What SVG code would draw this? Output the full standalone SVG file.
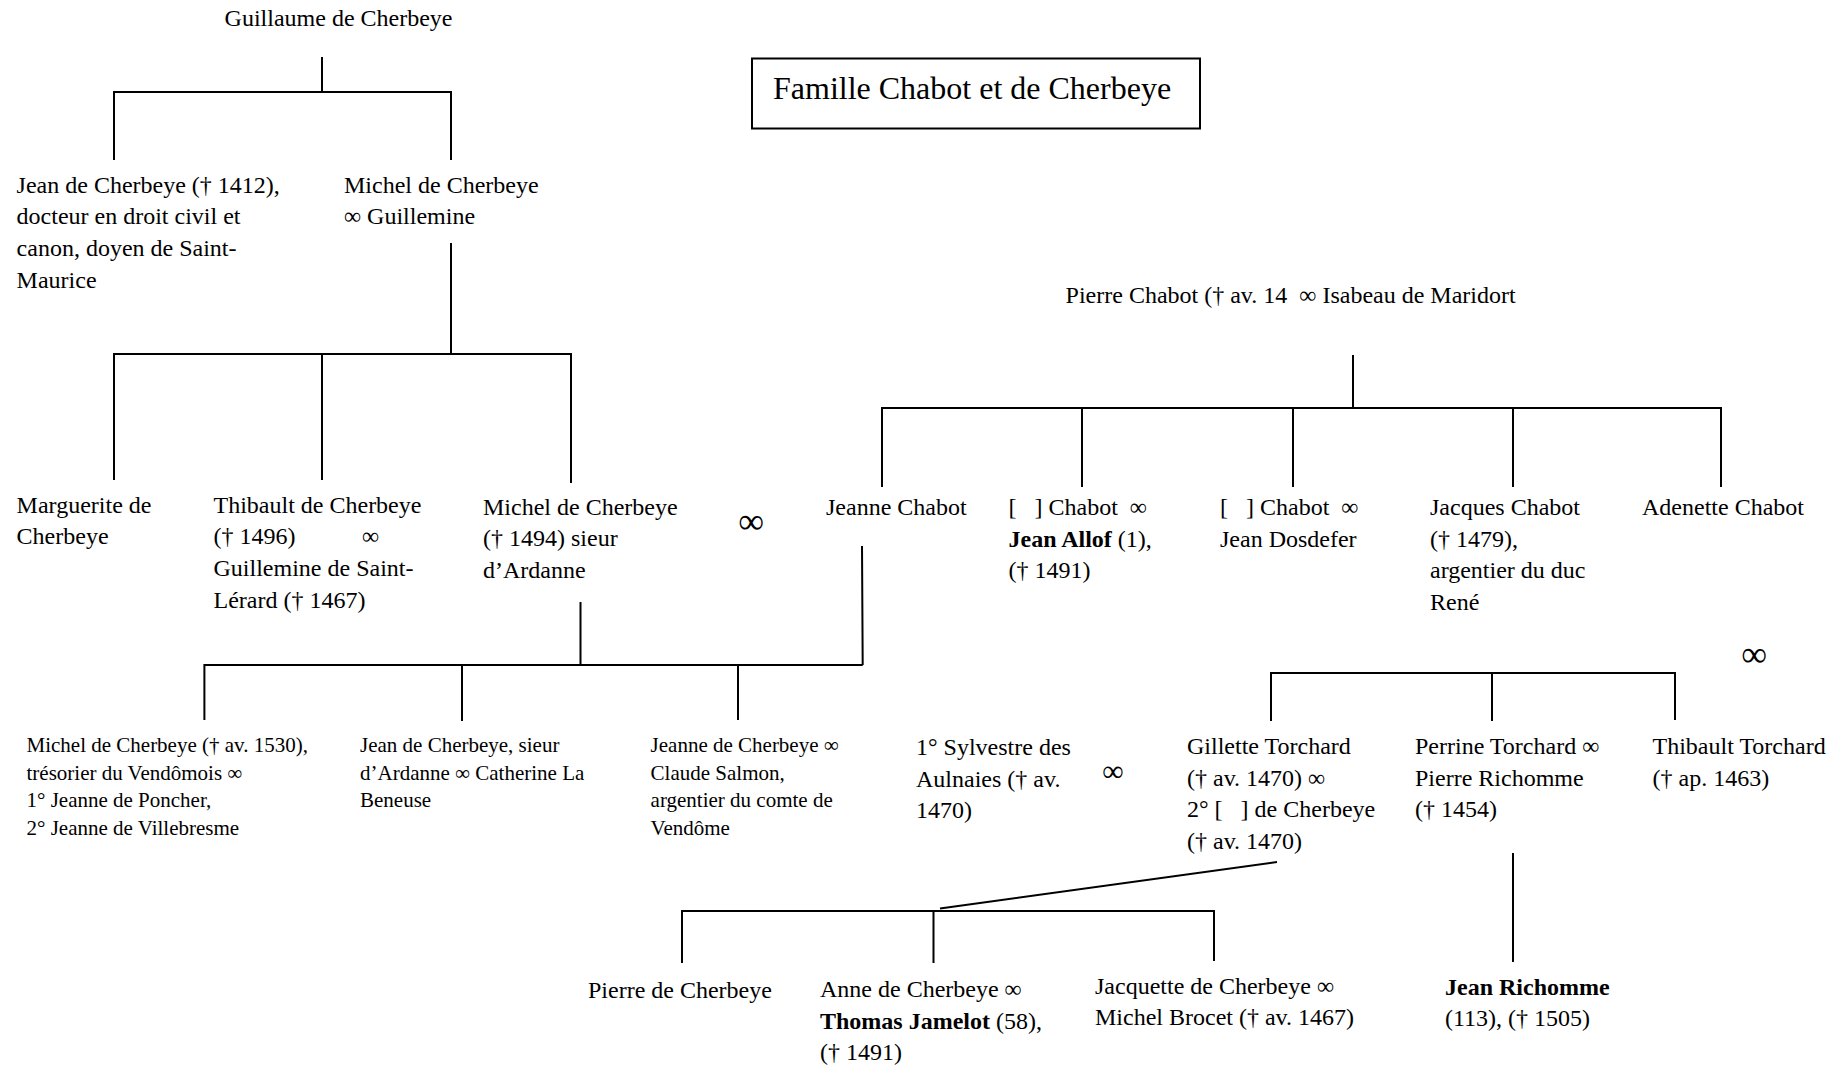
<svg xmlns="http://www.w3.org/2000/svg" width="1848" height="1068" viewBox="0 0 1848 1068">
<style>
text{font-family:"Liberation Serif","Times New Roman",serif;font-size:24px;fill:#000}
.s{font-size:21px}
.b{font-weight:bold}
.big{font-size:36px;text-anchor:middle}
.ln{fill:none;stroke:#000;stroke-width:2}
</style>
<rect width="1848" height="1068" fill="#fff"/>
<g id="connectors" class="ln">
<path d="M322 57V92M114 160V92H451V160"/>
<path d="M451 243V354M114 480V354H571V483M322 354V480"/>
<path d="M1353 355V408M882 487V408H1721V487M1082 408V487M1293 408V487M1513 408V487"/>
<path d="M580.5 602V665M862 546L862.7 665M204.4 720V665H862.7M462 665V721M738 665V720"/>
<path d="M1271 721V673H1675V720M1492 673V721"/>
<path d="M1277 862L940 908.5M682 963V911H1214V961M933.5 911V963"/>
<path d="M1513 853V962"/>
</g>
<g id="title"><rect x="752" y="58.5" width="448" height="70" fill="none" stroke="#000" stroke-width="2"/><text x="773" y="99" style="font-size:32px">Famille Chabot et de Cherbeye</text></g>
<g id="guillaume"><text x="224.6" y="26">Guillaume de Cherbeye</text></g>
<g id="jean1412"><text x="16.6" y="192.7">Jean de Cherbeye († 1412),</text><text x="16.6" y="224.4">docteur en droit civil et</text><text x="16.6" y="256">canon, doyen de Saint-</text><text x="16.6" y="287.7">Maurice</text></g>
<g id="michel1"><text x="344" y="192.7">Michel de Cherbeye</text><text x="344" y="224.4">∞ Guillemine</text></g>
<g id="marguerite"><text x="16.6" y="512.7">Marguerite de</text><text x="16.6" y="544.4">Cherbeye</text></g>
<g id="thibault"><text x="213.5" y="512.7">Thibault de Cherbeye</text><text x="213.5" y="544.4">(† 1496)</text><text x="362" y="544.4">∞</text><text x="213.5" y="576">Guillemine de Saint-</text><text x="213.5" y="607.7">Lérard († 1467)</text></g>
<g id="michel2"><text x="483" y="514.5">Michel de Cherbeye</text><text x="483" y="546">(† 1494) sieur</text><text x="483" y="577.5">d’Ardanne</text></g>
<g id="m1"><text class="big" x="751" y="533">∞</text></g>
<g id="pierrechabot"><text x="1065.6" y="303" xml:space="preserve">Pierre Chabot († av. 14  ∞ Isabeau de Maridort</text></g>
<g id="jeanne"><text x="826" y="515">Jeanne Chabot</text></g>
<g id="chabot1"><text x="1008.5" y="515" xml:space="preserve">[   ] Chabot  ∞</text><text x="1008.5" y="546.7"><tspan class="b">Jean Allof</tspan> (1),</text><text x="1008.5" y="578.4">(† 1491)</text></g>
<g id="chabot2"><text x="1220" y="515" xml:space="preserve">[   ] Chabot  ∞</text><text x="1220" y="546.7">Jean Dosdefer</text></g>
<g id="jacques"><text x="1430" y="515">Jacques Chabot</text><text x="1430" y="546.7">(† 1479),</text><text x="1430" y="578.4">argentier du duc</text><text x="1430" y="610">René</text></g>
<g id="adenette"><text x="1642" y="515">Adenette Chabot</text></g>
<g id="michel3"><text class="s" x="26.5" y="751.7">Michel de Cherbeye († av. 1530),</text><text class="s" x="26.5" y="779.5">trésorier du Vendômois ∞</text><text class="s" x="26.5" y="807.3">1° Jeanne de Poncher,</text><text class="s" x="26.5" y="835">2° Jeanne de Villebresme</text></g>
<g id="jean2"><text class="s" x="360" y="751.7">Jean de Cherbeye, sieur</text><text class="s" x="360" y="779.5">d’Ardanne ∞ Catherine La</text><text class="s" x="360" y="807.3">Beneuse</text></g>
<g id="jeanne2"><text class="s" x="650.6" y="751.7">Jeanne de Cherbeye ∞</text><text class="s" x="650.6" y="779.5">Claude Salmon,</text><text class="s" x="650.6" y="807.3">argentier du comte de</text><text class="s" x="650.6" y="835">Vendôme</text></g>
<g id="sylvestre"><text x="916" y="755">1° Sylvestre des</text><text x="916" y="786.7">Aulnaies († av.</text><text x="916" y="818.4">1470)</text></g>
<g id="m2"><text class="big" x="1113" y="781" style="font-size:30px">∞</text></g>
<g id="gillette"><text x="1187" y="754">Gillette Torchard</text><text x="1187" y="785.7">(† av. 1470) ∞</text><text x="1187" y="817.4" xml:space="preserve">2° [   ] de Cherbeye</text><text x="1187" y="849">(† av. 1470)</text></g>
<g id="perrine"><text x="1415" y="754">Perrine Torchard ∞</text><text x="1415" y="785.7">Pierre Richomme</text><text x="1415" y="817.4">(† 1454)</text></g>
<g id="thibaultT"><text x="1652.5" y="754">Thibault Torchard</text><text x="1652.5" y="785.7">(† ap. 1463)</text></g>
<g id="m3"><text class="big" x="1754" y="666">∞</text></g>
<g id="pierre"><text x="588" y="998">Pierre de Cherbeye</text></g>
<g id="anne"><text x="820" y="997">Anne de Cherbeye ∞</text><text x="820" y="1028.5"><tspan class="b">Thomas Jamelot</tspan> (58),</text><text x="820" y="1060">(† 1491)</text></g>
<g id="jacquette"><text x="1095" y="993.5">Jacquette de Cherbeye ∞</text><text x="1095" y="1025">Michel Brocet († av. 1467)</text></g>
<g id="richomme"><text x="1445" y="995" class="b">Jean Richomme</text><text x="1445" y="1026">(113), († 1505)</text></g>
</svg>
